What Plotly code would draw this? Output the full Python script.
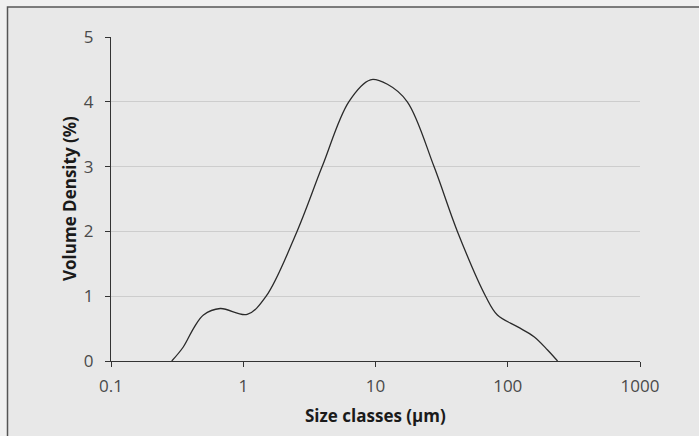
import plotly.graph_objects as go

size_um = [0.288, 0.353, 0.42, 0.50, 0.67, 1.07, 1.49, 2.55, 3.95,
           6.28, 9.17, 12.3, 17.4, 27.7, 41.6, 68.0, 83.5, 118.0,
           158.0, 200.0, 238.0]
volume_density = [0.0, 0.22, 0.50, 0.71, 0.81, 0.72, 1.0, 2.0, 3.0,
                  4.0, 4.34, 4.27, 4.0, 3.0, 2.0, 1.0, 0.71, 0.53,
                  0.375, 0.17, 0.0]
x_ticks = [0.1, 1, 10, 100, 1000]
x_tick_labels = ["0.1", "1", "10", "100", "1000"]
y_ticks = [0, 1, 2, 3, 4, 5]

W, H = 699, 436
L, R, T, B = 111, 640, 37, 361

def px(xp):
    return (xp - L) / (R - L)

def py(yp):
    return (B - yp) / (B - T)

fig = go.Figure()
fig.add_trace(go.Scatter(
    x=size_um, y=volume_density, mode="lines",
    line=dict(color="#2a2a2a", width=1.3, shape="spline", smoothing=1.0),
    hoverinfo="skip", showlegend=False,
))

font_family = "Open Sans, Noto Sans, sans-serif"
tick_font = dict(family=font_family, size=17, color="#4a4a4a")

fig.update_layout(
    width=W, height=H,
    margin=dict(l=L, r=W - R, t=T, b=H - B, pad=0),
    paper_bgcolor="#f0f0f0",
    plot_bgcolor="rgba(0,0,0,0)",
    font=dict(family=font_family, size=17, color="#4a4a4a"),
    xaxis=dict(
        type="log", range=[-1, 3],
        tickvals=x_ticks, ticktext=x_tick_labels, tickfont=tick_font,
        ticks="outside", ticklen=5, tickcolor="#333333", tickwidth=1,
        showline=True, linecolor="#333333", linewidth=1.3,
        showgrid=False, zeroline=False,
        ticklabelstandoff=4,
    ),
    yaxis=dict(
        range=[0, 5], tickvals=y_ticks, tickfont=tick_font,
        ticks="outside", ticklen=5, tickcolor="#333333", tickwidth=1,
        showline=True, linecolor="#333333", linewidth=1.3,
        showgrid=True, gridcolor="#cdcdcd", gridwidth=1,
        zeroline=False, ticklabelstandoff=8,
    ),
    shapes=[dict(
        type="rect", xref="paper", yref="paper",
        x0=px(7.5), x1=px(712), y0=py(450), y1=py(7),
        fillcolor="#e8e8e8", line=dict(color="#555555", width=1.5),
        layer="below",
    )],
    annotations=[
        dict(text="<b>Size classes (µm)</b>", xref="paper", yref="paper",
             x=0.5, y=py(415), showarrow=False,
             font=dict(family=font_family, size=17, color="#1a1a1a"),
             xanchor="center", yanchor="middle"),
        dict(text="<b>Volume Density (%)</b>", xref="paper", yref="paper",
             x=px(69), y=py(199), showarrow=False, textangle=-90,
             font=dict(family=font_family, size=17, color="#1a1a1a"),
             xanchor="center", yanchor="middle"),
    ],
)

fig.write_html("out.html")
